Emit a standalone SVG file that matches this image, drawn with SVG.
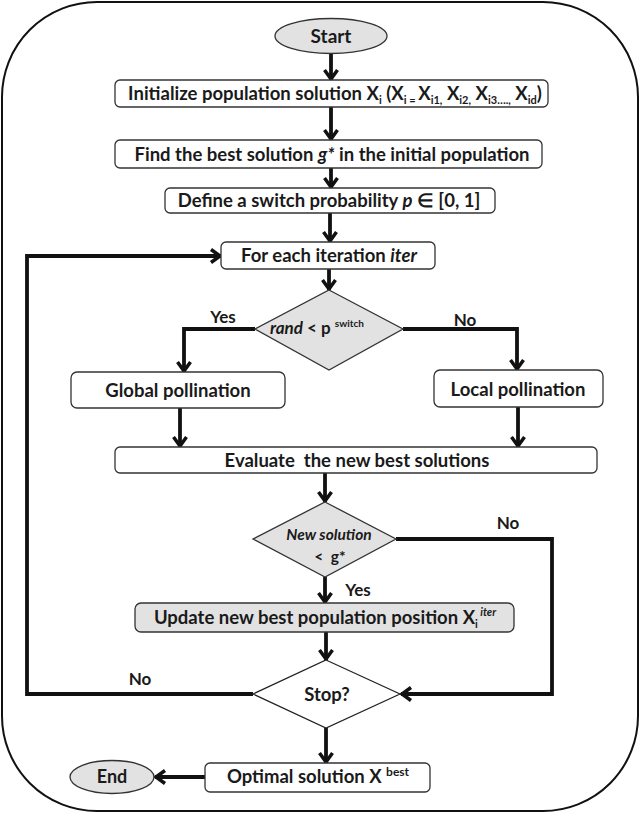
<svg xmlns="http://www.w3.org/2000/svg" width="640" height="813" viewBox="0 0 640 813">
<style>
text{font-family:Lato,"Open Sans","Liberation Sans",sans-serif;font-weight:bold;fill:#1a1a1a;text-anchor:middle}
.box{fill:#fff;stroke:#333;stroke-width:1.3}
.gray{fill:#e2e2e2;stroke:#333;stroke-width:1.3}
.conn{fill:none;stroke:#111;stroke-width:3.8;marker-end:url(#arr)}
.lbl{font-size:18.5px}
.yn{font-size:17px}
.sub{font-size:11px}
.it{font-style:italic}
</style>
<defs>
<marker id="arr" markerUnits="userSpaceOnUse" markerWidth="16" markerHeight="16" viewBox="-13 -8 16 16" refX="0" refY="0" orient="auto" overflow="visible">
<path d="M-10,-6.5 L-1,0 L-10,6.5" fill="none" stroke="#111" stroke-width="3.5"/>
</marker>
</defs>
<rect id="frame" x="2" y="2" width="636" height="809" rx="95" ry="95" fill="#fff" stroke="#111" stroke-width="2"/>
<g id="connectors">
<path class="conn" d="M331,54 V80"/>
<path class="conn" d="M331,107 V140"/>
<path class="conn" d="M331,168 V188"/>
<path class="conn" d="M330,213 V242"/>
<path class="conn" d="M329,269 V290"/>
<path class="conn" d="M255,329 H184 V372"/>
<path class="conn" d="M403,329 H517 V370"/>
<path class="conn" d="M180,408 V447"/>
<path class="conn" d="M518,407 V447"/>
<path class="conn" d="M325,473 V502"/>
<path class="conn" d="M325,577 V603"/>
<path class="conn" d="M396,539 H552 V694 H401"/>
<path class="conn" d="M326,632 V660"/>
<path class="conn" d="M253,694 H27 V256 H221"/>
<path class="conn" d="M326,728 V763"/>
<path class="conn" d="M205,777 H155"/>
</g>
<g id="start">
<ellipse class="gray" cx="331" cy="36" rx="56" ry="17.5"/>
<text x="331" y="43" style="font-size:19px">Start</text>
</g>
<g id="init">
<rect class="box" x="115" y="80" width="433" height="27" rx="5"/>
<text x="335" y="100" class="lbl">Initialize population solution X<tspan class="sub" dy="4">i</tspan><tspan dy="-4"> (X</tspan><tspan class="sub" dy="4">i = </tspan><tspan dy="-4">X</tspan><tspan class="sub" dy="4">i1,</tspan><tspan dy="-4"> X</tspan><tspan class="sub" dy="4">i2,</tspan><tspan dy="-4"> X</tspan><tspan class="sub" dy="4">i3….,</tspan><tspan dy="-4"> X</tspan><tspan class="sub" dy="4">id</tspan><tspan dy="-4">)</tspan></text>
</g>
<g id="find">
<rect class="box" x="115" y="140" width="427" height="28" rx="5"/>
<text x="332" y="161" class="lbl">Find the best solution <tspan class="it">g*</tspan> in the initial population</text>
</g>
<g id="define">
<rect class="box" x="165" y="188" width="330" height="25" rx="5"/>
<text x="329" y="207" class="lbl">Define a switch probability <tspan class="it">p</tspan> ∈ [0, 1]</text>
</g>
<g id="foreach">
<rect class="box" x="221" y="242" width="214" height="27" rx="5"/>
<text x="329" y="262" class="lbl">For each iteration <tspan class="it">iter</tspan></text>
</g>
<g id="decision1">
<polygon class="gray" points="329,290 403,329 329,370 255,329"/>
<text x="270" y="334" style="font-size:17px;text-anchor:start"><tspan class="it">rand</tspan> &lt; p <tspan dy="-7" style="font-size:10px">switch</tspan></text>
</g>
<text x="223" y="323" class="yn">Yes</text>
<text x="465" y="326" class="yn">No</text>
<g id="global">
<rect class="box" x="71" y="372" width="214" height="36" rx="6"/>
<text x="178" y="397" class="lbl">Global pollination</text>
</g>
<g id="local">
<rect class="box" x="434" y="370" width="169" height="37" rx="6"/>
<text x="518" y="396" class="lbl">Local pollination</text>
</g>
<g id="evaluate">
<rect class="box" x="115" y="447" width="482" height="26" rx="5"/>
<text x="357" y="467" class="lbl" xml:space="preserve">Evaluate  the new best solutions</text>
</g>
<g id="decision2">
<polygon class="gray" points="325,502 396,539 325,577 253,539"/>
<text x="329" y="540" class="it" style="font-size:15.5px">New solution</text>
<text x="330" y="562" style="font-size:15.5px" xml:space="preserve">&lt;  g*</text>
</g>
<text x="508" y="529" class="yn">No</text>
<text x="358" y="596" class="yn">Yes</text>
<g id="update">
<rect class="gray" x="135" y="603" width="379" height="29" rx="6"/>
<text x="325" y="624" class="lbl">Update new best population position X<tspan class="sub" dy="4">i</tspan><tspan class="sub it" dy="-12"> iter</tspan></text>
</g>
<g id="stop">
<polygon points="326,660 400,694 326,728 253,694" fill="#fff" stroke="#222" stroke-width="1.2"/>
<text x="327" y="701" style="font-size:18.5px">Stop?</text>
</g>
<text x="140" y="685" class="yn">No</text>
<g id="optimal">
<rect class="box" x="205" y="763" width="225" height="29" rx="5"/>
<text x="318" y="783" class="lbl">Optimal solution X <tspan dy="-7" style="font-size:12px">best</tspan></text>
</g>
<g id="end">
<ellipse class="gray" cx="112" cy="777" rx="42" ry="16.5"/>
<text x="112" y="783" style="font-size:18px">End</text>
</g>
</svg>
